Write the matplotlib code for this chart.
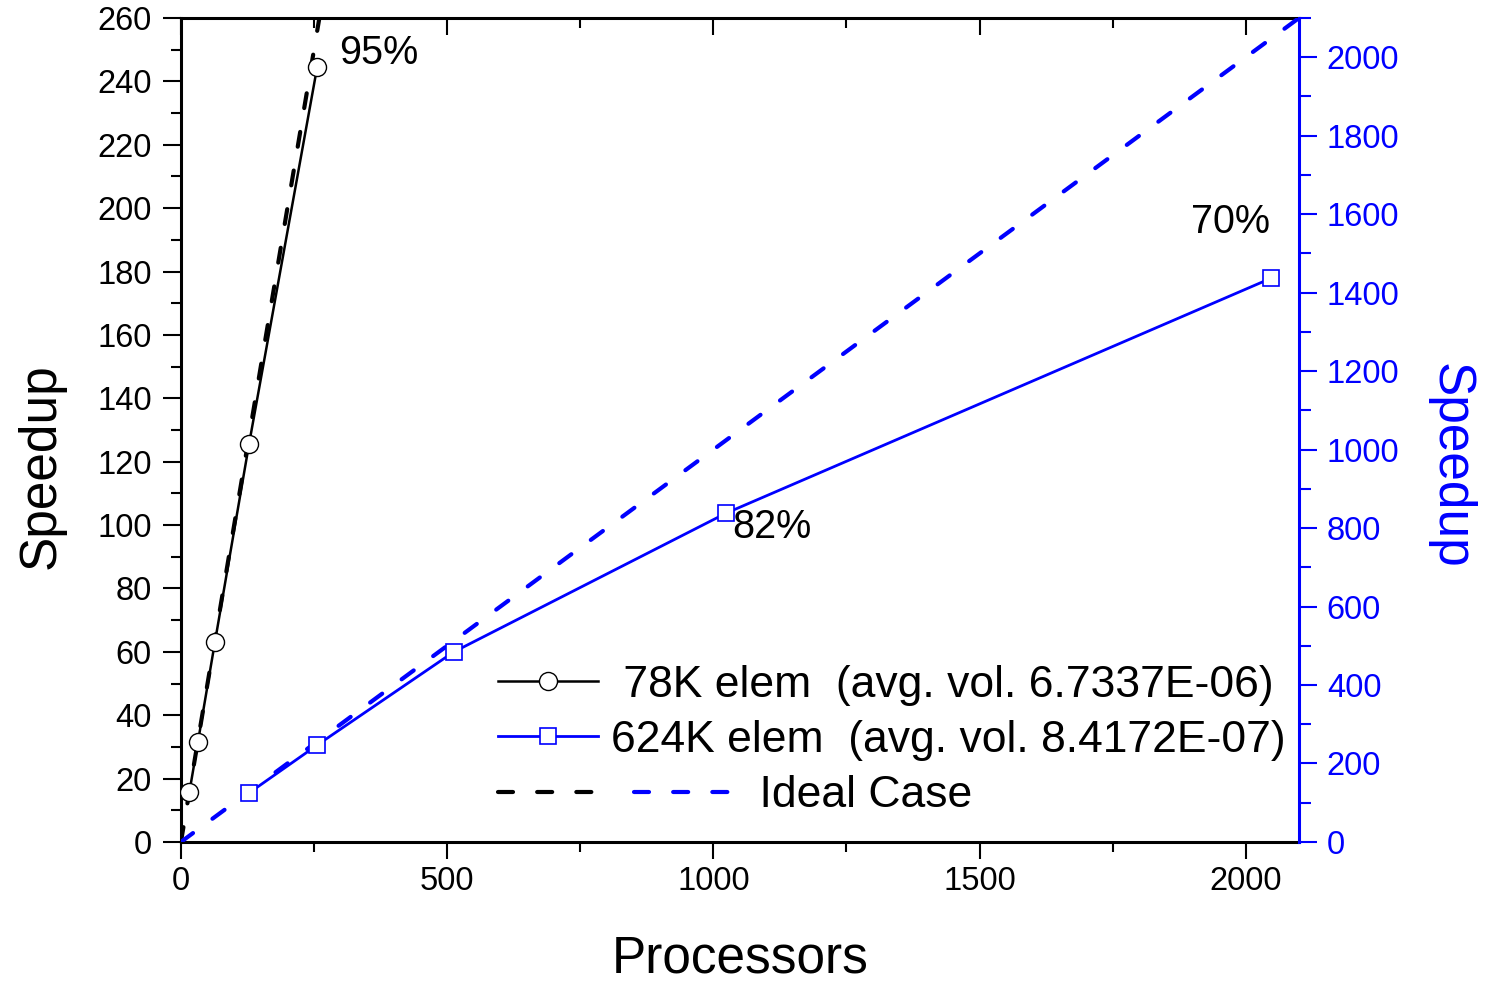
import matplotlib
matplotlib.use("Agg")
import matplotlib.pyplot as plt
from matplotlib.lines import Line2D
from matplotlib.legend_handler import HandlerBase
from matplotlib.ticker import MultipleLocator
from matplotlib.markers import TICKDOWN

plt.rcParams['font.family'] = ['Liberation Sans', 'DejaVu Sans']

# ---- data ----
procs_78k = [16, 32, 64, 128, 256]
speedup_78k = [15.8, 31.6, 63.2, 125.6, 244.6]
procs_624k = [128, 256, 512, 1024, 2048]
speedup_624k = [125, 247, 484, 838, 1437]
ideal_procs = [0, 2100]
ideal_speedup = [0, 2100]
label_78k = " 78K elem  (avg. vol. 6.7337E-06)"
label_624k = "624K elem  (avg. vol. 8.4172E-07)"
label_ideal = "Ideal Case"
eff_labels = ["95%", "82%", "70%"]

BLUE = "#0000ff"

fig = plt.figure(figsize=(14.94, 9.82), dpi=100)
ax = fig.add_subplot(111)
fig.subplots_adjust(left=0.1211, right=0.8695, top=0.9817, bottom=0.1426)
ax2 = ax.twinx()

dash = (3.6, 5.8)
ideal_b, = ax.plot(ideal_procs, ideal_speedup, color='black', lw=3,
                   linestyle=(0, dash), dash_capstyle='round', zorder=2)
l78, = ax.plot(procs_78k, speedup_78k, color='black', lw=1.8, marker='o',
               markersize=13, markerfacecolor='white', markeredgecolor='black',
               markeredgewidth=1.0, zorder=3)
ideal_bl, = ax2.plot(ideal_procs, ideal_speedup, color=BLUE, lw=3,
                     linestyle=(0, dash), dash_capstyle='round', zorder=2)
l624, = ax2.plot(procs_624k, speedup_624k, color=BLUE, lw=2.0, marker='s',
                 markersize=11.5, markerfacecolor='white', markeredgecolor=BLUE,
                 markeredgewidth=1.2, zorder=3)

ax.set_xlim(0, 2100)
ax.set_ylim(0, 260)
ax2.set_ylim(0, 2100)

ax.xaxis.set_major_locator(MultipleLocator(500))
ax.xaxis.set_minor_locator(MultipleLocator(250))
ax.yaxis.set_major_locator(MultipleLocator(20))
ax.yaxis.set_minor_locator(MultipleLocator(10))
ax2.yaxis.set_major_locator(MultipleLocator(200))
ax2.yaxis.set_minor_locator(MultipleLocator(100))

for s in ['left', 'top', 'bottom']:
    ax.spines[s].set_linewidth(2.2)
    ax2.spines[s].set_visible(False)
ax.spines['right'].set_visible(False)
ax2.spines['right'].set_linewidth(2.2)
ax2.spines['right'].set_color(BLUE)

TS = 23.5
ax.tick_params(axis='x', which='both', direction='out', top=True, labelsize=TS,
               width=1.5, pad=5)
ax.tick_params(axis='x', which='major', length=12.5)
ax.tick_params(axis='x', which='minor', length=7)
ax.tick_params(axis='y', which='both', direction='out', right=False, labelsize=TS,
               width=1.5, pad=8)
ax.tick_params(axis='y', which='major', length=13)
ax.tick_params(axis='y', which='minor', length=7)
ax2.tick_params(axis='y', which='both', direction='out', colors=BLUE,
                labelsize=TS, width=1.5, pad=7)
ax2.tick_params(axis='y', which='major', length=13)
ax2.tick_params(axis='y', which='minor', length=8.5)

# top ticks point inward
for t in ax.xaxis.get_major_ticks() + ax.xaxis.get_minor_ticks():
    t.tick2line.set_marker(TICKDOWN)

ax.set_xlabel("Processors", fontsize=37, labelpad=27)
ax.set_ylabel("Speedup", fontsize=37)
ax.yaxis.set_label_coords(-0.103, 0.456)
ax2.set_ylabel("Speedup", fontsize=37, color=BLUE, rotation=270)
ax2.yaxis.set_label_coords(1.157, 0.456)

ax.text(298, 245.5, eff_labels[0], fontsize=28.5, va='baseline', ha='left')
ax2.text(1036, 775, eff_labels[1], fontsize=28.5, va='baseline', ha='left')
ax2.text(1897, 1552, eff_labels[2], fontsize=28.5, va='baseline', ha='left')


class IdealHandler(HandlerBase):
    def create_artists(self, legend, orig_handle, xdescent, ydescent, width,
                       height, fontsize, trans):
        h1, h2 = orig_handle
        y = height / 2 - ydescent
        x0 = -xdescent
        a = Line2D([x0, x0 + width], [y, y])
        a.update_from(h1)
        a.set_transform(trans)
        b = Line2D([x0 + width * 1.36, x0 + width * 2.38], [y, y])
        b.update_from(h2)
        b.set_transform(trans)
        return [a, b]


leg = ax2.legend([l78, l624, (ideal_b, ideal_bl)],
                 [label_78k, label_624k, " " * 12 + label_ideal],
                 handler_map={tuple: IdealHandler()},
                 loc='upper left', bbox_to_anchor=(0.2835, 0.215),
                 frameon=False, fontsize=32, handlelength=2.25,
                 handletextpad=0.3, labelspacing=0.32, borderpad=0,
                 borderaxespad=0, numpoints=1)

fig.savefig("out.png", dpi=100)
